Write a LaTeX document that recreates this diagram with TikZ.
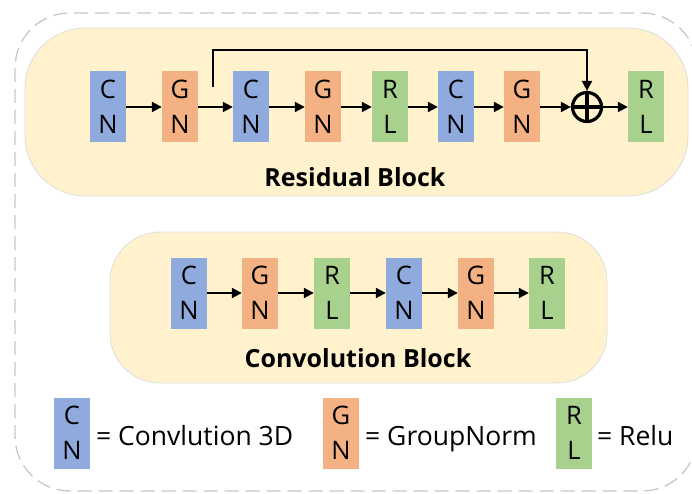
\documentclass[tikz,border=0pt]{standalone}
\usepackage{fontspec}
\setmainfont{Open Sans}
\usetikzlibrary{arrows.meta,calc}
\definecolor{cnblue}{HTML}{8FAADC}
\definecolor{gnorange}{HTML}{F4B183}
\definecolor{rlgreen}{HTML}{A9D18E}
\definecolor{blockfill}{HTML}{FFF2CC}
\definecolor{blockedge}{HTML}{DDDDDD}
\begin{document}
\begin{tikzpicture}[x=1pt,y=-1pt,
  unitbox/.style={minimum width=36pt, minimum height=71pt, inner sep=0pt, align=center,
    font=\fontsize{25.5}{35}\selectfont},
  cnbox/.style={unitbox, fill=cnblue},
  gnbox/.style={unitbox, fill=gnorange},
  rlbox/.style={unitbox, fill=rlgreen},
  blockbg/.style={fill=blockfill, draw=blockedge, line width=0.8pt},
  arr/.style={-{Triangle[length=10pt,width=10pt]}, line width=2pt},
  title/.style={font=\bfseries\fontsize{25}{30}\selectfont},
  legtext/.style={anchor=base west, font=\fontsize{26.5}{30}\selectfont, inner sep=0pt}
]
\useasboundingbox (0,0) rectangle (692,494);
% outer dashed frame
\draw[black!22, line width=1.3pt, dash pattern=on 14pt off 7pt, rounded corners=55pt]
  (15,13) rectangle (697,491);
% block backgrounds
\draw[blockbg, rounded corners=60pt] (25,28) rectangle (688,196);
\draw[blockbg, rounded corners=50pt] (110,232) rectangle (607,383);

% residual block
\node[cnbox] (r1) at (108,107) {C\\N};
\node[gnbox] (r2) at (180,107) {G\\N};
\node[cnbox] (r3) at (251,107) {C\\N};
\node[gnbox] (r4) at (323,107) {G\\N};
\node[rlbox] (r5) at (390,107) {R\\L};
\node[cnbox] (r6) at (456,107) {C\\N};
\node[gnbox] (r7) at (522,107) {G\\N};
\node[circle, draw, line width=3.2pt, minimum size=29pt, inner sep=0pt] (add) at (587,107) {};
\draw[line width=3.2pt] (add.north) -- (add.south);
\draw[line width=3.2pt] (add.west) -- (add.east);
\node[rlbox] (r8) at (646,107) {R\\L};
\draw[arr] (r1) -- (r2);
\draw[arr] (r2) -- (r3);
\draw[arr] (r3) -- (r4);
\draw[arr] (r4) -- (r5);
\draw[arr] (r5) -- (r6);
\draw[arr] (r6) -- (r7);
\draw[arr] (r7) -- (add);
\draw[arr] (add) -- (r8);
\coordinate (skip) at (213,87);
\draw[arr] (skip) -- ++(0,-37) -| (add.north);
\node[title] (rtitle) at (355,177) {Residual Block};

% convolution block
\node[cnbox] (c1) at (189,293) {C\\N};
\node[gnbox] (c2) at (260,293) {G\\N};
\node[rlbox] (c3) at (332,293) {R\\L};
\node[cnbox] (c4) at (404,293) {C\\N};
\node[gnbox] (c5) at (476,293) {G\\N};
\node[rlbox] (c6) at (547,293) {R\\L};
\draw[arr] (c1) -- (c2);
\draw[arr] (c2) -- (c3);
\draw[arr] (c3) -- (c4);
\draw[arr] (c4) -- (c5);
\draw[arr] (c5) -- (c6);
\node[title] (ctitle) at (358,358) {Convolution Block};

% legend
\node[cnbox] (l1) at (72,433) {C\\N};
\node[legtext] (l1t) at (96,445) {= Convlution 3D};
\node[gnbox] (l2) at (341,433) {G\\N};
\node[legtext] (l2t) at (365,445) {= GroupNorm};
\node[rlbox] (l3) at (574,433) {R\\L};
\node[legtext] (l3t) at (597,445) {= Relu};
\end{tikzpicture}
\end{document}
